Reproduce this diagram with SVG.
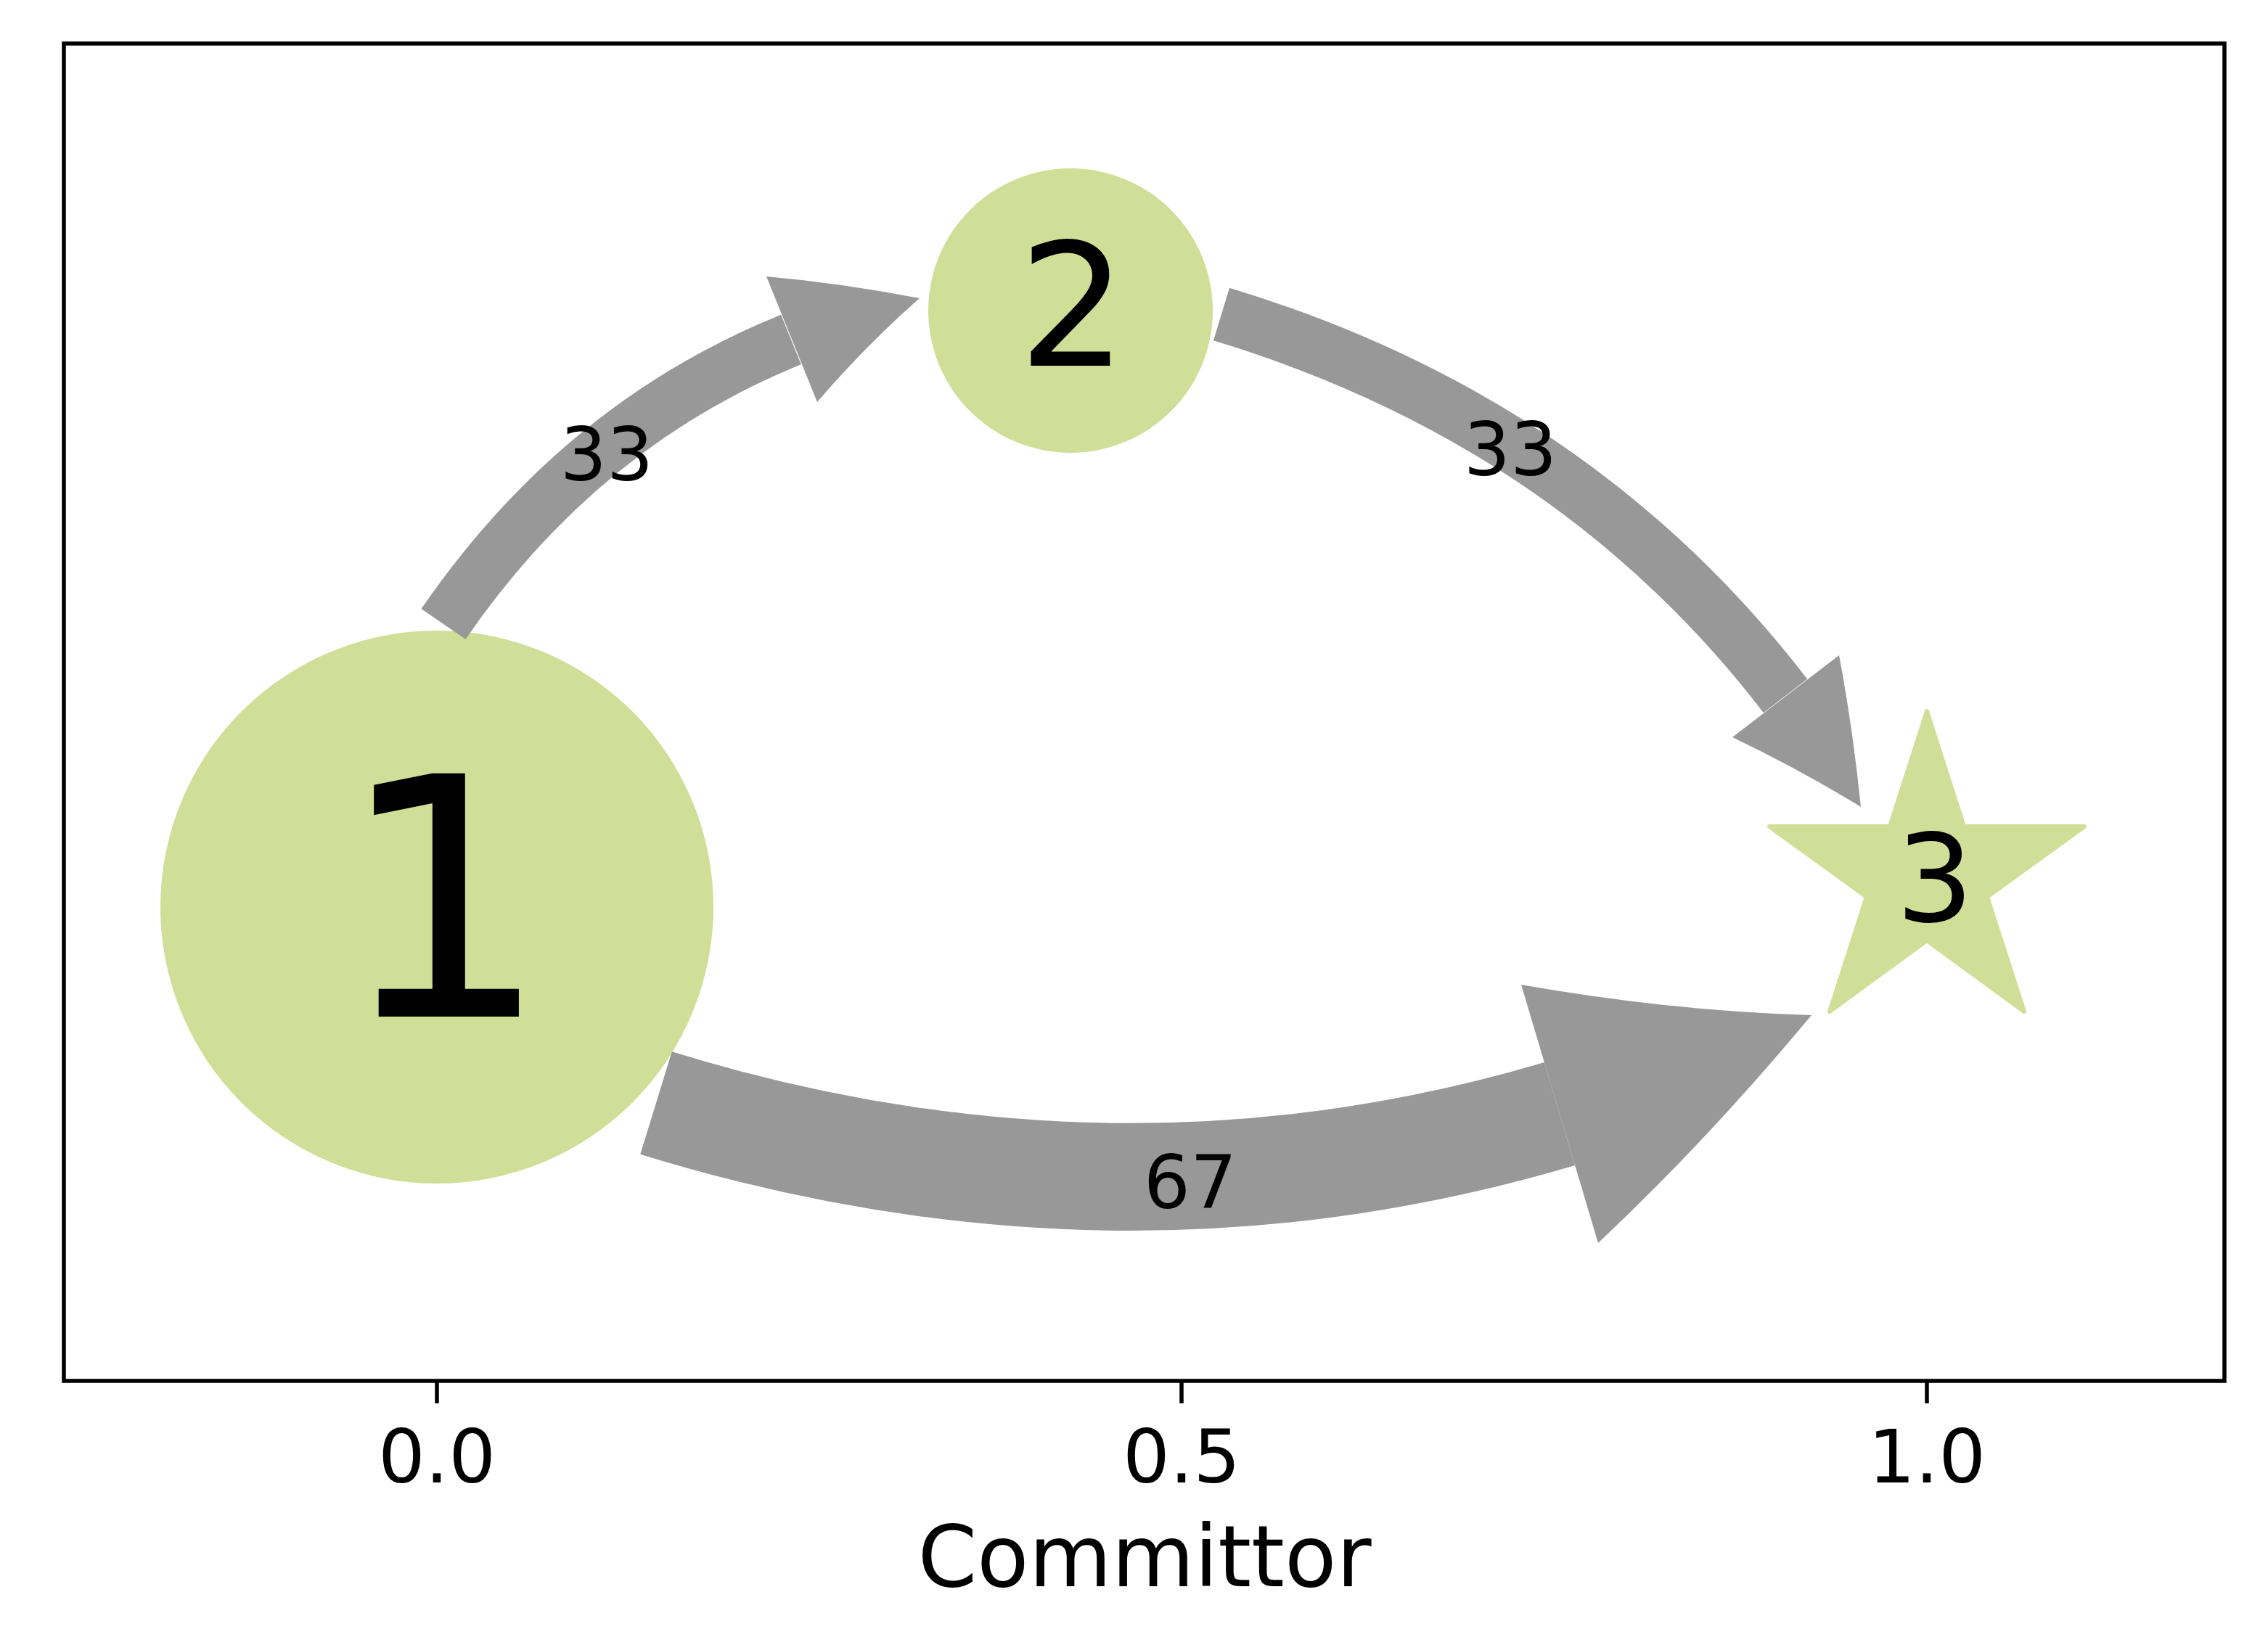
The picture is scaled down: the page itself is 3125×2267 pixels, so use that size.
<svg xmlns="http://www.w3.org/2000/svg" width="3125" height="2267" viewBox="0 0 3125 2267">
<style>
.node{fill:#d1de98}
.shaft{fill:none;stroke:#989898;stroke-linecap:butt}
.head{fill:#989898}
.lbl{font-family:"DejaVu Sans","Liberation Sans",sans-serif;fill:#000;text-anchor:middle}
.elbl{font-size:101px}
.tick{stroke:#000;stroke-width:5.5}
</style>
<rect x="0" y="0" width="3125" height="2267" fill="#ffffff"/>
<g id="axes">
<rect x="88" y="60" width="2977" height="1843" fill="none" stroke="#000" stroke-width="5.5"/>
<line class="tick" x1="602" y1="1903" x2="602" y2="1934"/>
<line class="tick" x1="1628" y1="1903" x2="1628" y2="1934"/>
<line class="tick" x1="2655" y1="1903" x2="2655" y2="1934"/>
<text class="lbl" x="602" y="2043" font-size="102">0.0</text>
<text class="lbl" x="1628" y="2043" font-size="102">0.5</text>
<text class="lbl" x="2655" y="2043" font-size="102">1.0</text>
<text class="lbl" x="1577" y="2186" font-size="117">Committor</text>
</g>
<g id="node1">
<circle class="node" cx="602" cy="1250" r="381"/>
<text class="lbl" x="611" y="1401" font-size="460">1</text>
</g>
<g id="node2">
<circle class="node" cx="1475" cy="428" r="196"/>
<text class="lbl" x="1478" y="504" font-size="235">2</text>
</g>
<g id="node3">
<polygon class="node" stroke="#d1de98" stroke-width="6" stroke-linejoin="round" points="2655,980 2706,1139 2872,1139 2738,1236 2789,1394 2655,1296 2521,1394 2572,1236 2438,1139 2604,1139"/>
<text class="lbl" x="2666" y="1270" font-size="168">3</text>
</g>
<g id="edges">
<g id="edge-1-2">
<path class="shaft" stroke-width="74" d="M611,860 Q800,585 1090,468"/>
<path class="head" d="M1056,381 Q1158,390 1267,411 Q1193,476 1126,554 Z"/>
</g>
<g id="edge-2-3">
<path class="shaft" stroke-width="76" d="M1683,433 Q2169,580 2460,959"/>
<path class="head" d="M2534,903 Q2553,1004 2564,1112 Q2479,1060 2387,1016 Z"/>
</g>
<g id="edge-1-3">
<path class="shaft" stroke-width="148" d="M904,1520 Q1540,1716 2149,1535"/>
<path class="head" d="M2096,1357 Q2300,1393 2496,1399 Q2353,1571 2202,1713 Z"/>
</g>
</g>
<g id="edge-labels">
<text class="lbl elbl" x="836" y="662">33</text>
<text class="lbl elbl" x="2081" y="655">33</text>
<text class="lbl elbl" x="1640" y="1665">67</text>
</g>
</svg>
